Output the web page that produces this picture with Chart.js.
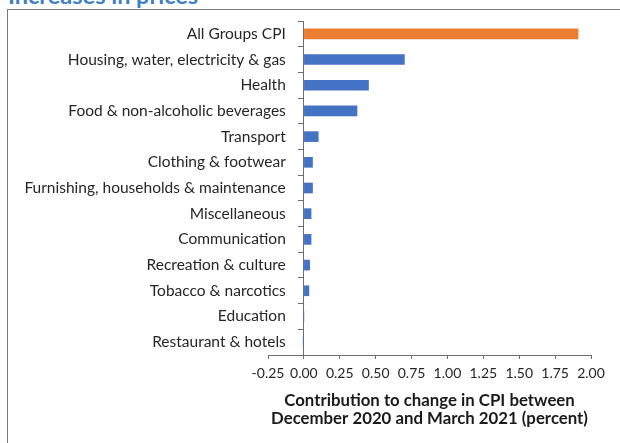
<!DOCTYPE html>
<html><head><meta charset="utf-8">
<script src="https://cdn.jsdelivr.net/npm/chart.js@4"></script>
<style>
html,body{margin:0;padding:0;background:#fff;width:620px;height:443px;overflow:hidden;}
#title{position:absolute;left:8px;top:-19px;font:bold 23.5px Lato;line-height:28px;color:#3f7fc6;white-space:nowrap;}
#frame{position:absolute;left:7px;top:9px;width:700px;height:500px;border-left:1px solid #7a7a7a;border-top:1px solid #7a7a7a;}
#wrap{position:absolute;left:0;top:0;width:620px;height:443px;}
</style></head>
<body>
<div id="title">Increases in prices</div>
<div id="frame"></div>
<div id="wrap"><canvas id="c" width="620" height="443"></canvas></div>
<script>
const categories = [
  'All Groups CPI',
  'Housing, water, electricity & gas',
  'Health',
  'Food & non-alcoholic beverages',
  'Transport',
  'Clothing & footwear',
  'Furnishing, households & maintenance',
  'Miscellaneous',
  'Communication',
  'Recreation & culture',
  'Tobacco & narcotics',
  'Education',
  'Restaurant & hotels'
];
const contributions = [1.91, 0.70, 0.45, 0.37, 0.10, 0.06, 0.06, 0.05, 0.05, 0.04, 0.035, 0.0, -0.005];
const xTicks = [-0.25, 0, 0.25, 0.5, 0.75, 1.0, 1.25, 1.5, 1.75, 2.0];
const xTitle = ['Contribution to change in CPI between', 'December 2020 and March 2021 (percent)'];

const axisColor = '#6e6e6e';
const textColor = '#262626';
Chart.defaults.font.family = 'Lato';
Chart.defaults.color = textColor;

new Chart(document.getElementById('c'), {
  type: 'bar',
  data: {
    labels: categories,
    datasets: [{
      data: contributions,
      backgroundColor: categories.map((c, i) => i === 0 ? '#ED7D31' : '#4472C4'),
      borderWidth: 0,
      barThickness: 10,
      yAxisID: 'y',
      xAxisID: 'x'
    }]
  },
  options: {
    indexAxis: 'y',
    responsive: false,
    animation: false,
    events: [],
    layout: { padding: { left: 268, right: 29, top: 21, bottom: 15.5 } },
    plugins: { legend: { display: false }, tooltip: { enabled: false }, title: { display: false } },
    scales: {
      x: {
        type: 'linear',
        position: 'bottom',
        min: xTicks[0],
        max: xTicks[xTicks.length - 1],
        afterBuildTicks: (s) => { s.ticks = xTicks.map(v => ({ value: v })); },
        ticks: {
          font: { size: 14 },
          color: textColor,
          padding: 6,
          maxRotation: 0,
          autoSkip: false,
          callback: (v) => Number(v).toFixed(2)
        },
        grid: { drawOnChartArea: false, drawTicks: true, tickLength: 4, color: axisColor, lineWidth: 1 },
        border: { display: true, color: axisColor, width: 1 },
        title: {
          display: true,
          text: xTitle,
          color: '#1a1a1a',
          font: { size: 16.8, weight: 'bold', lineHeight: '18px' },
          padding: { top: 3.7, bottom: 0 }
        }
      },
      y: {
        type: 'category',
        position: { x: -0.126 },
        offset: true,
        ticks: { font: { size: 15.5 }, color: textColor, autoSkip: false },
        grid: { display: false, drawTicks: false, offset: true },
        border: { display: false }
      },
      y2: {
        type: 'category',
        position: { x: 0 },
        offset: true,
        ticks: { display: false },
        grid: { display: true, offset: true, drawOnChartArea: false, drawTicks: true, tickLength: 5, color: axisColor, lineWidth: 1 },
        border: { display: true, color: axisColor, width: 1 }
      }
    }
  }
});
</script>
</body></html>
